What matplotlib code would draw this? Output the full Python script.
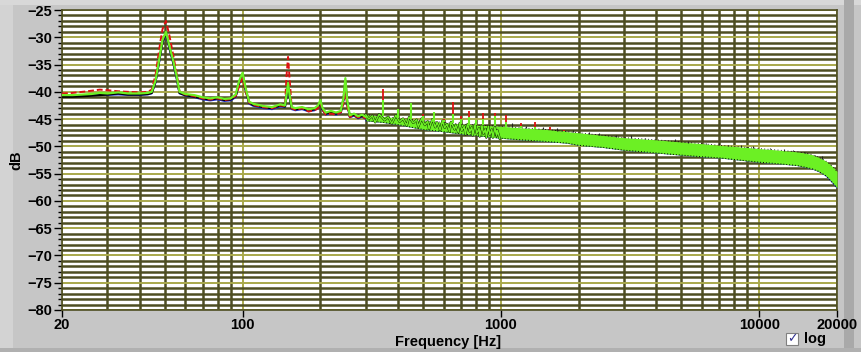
import numpy as np
import matplotlib.pyplot as plt
from matplotlib.patches import Rectangle

# low frequency part of the spectrum (Hz / dB)
freq_low = [20, 22, 24, 26, 28, 30, 33, 36, 40, 43, 44.5, 46, 47, 48, 49, 50.5, 52,
            53, 54, 55.5, 57, 60, 65, 70, 75, 80, 85, 90, 94, 97, 100, 103, 106, 110,
            120, 130, 140, 146, 148, 150, 152, 155, 160, 170, 180, 190, 196, 200,
            204, 210, 220, 230, 240, 246, 250, 254, 260, 270, 280, 290, 300]
green_low = [-40.6, -40.6, -40.5, -40.4, -40.2, -40.3, -40.1, -40.3, -40.3, -40.2,
             -40.0, -38.0, -35.5, -33.0, -30.5, -29.0, -31.5, -33.0, -34.5, -37.0,
             -40.0, -40.4, -40.6, -41.0, -41.2, -41.0, -41.3, -41.2, -40.5, -38.0,
             -36.5, -39.5, -41.8, -42.2, -42.6, -42.8, -42.3, -42.5, -40.5, -38.4,
             -40.5, -42.8, -43.0, -42.8, -43.2, -43.0, -42.5, -41.5, -43.0, -43.8,
             -43.5, -43.8, -43.5, -41.0, -37.5, -41.5, -44.3, -44.0, -44.5, -44.2,
             -44.6]
red_low = [-40.3, -40.2, -40.0, -39.8, -39.6, -39.7, -39.9, -40.0, -40.1, -40.0,
           -39.6, -37.0, -34.0, -31.0, -28.5, -27.0, -29.5, -31.5, -33.5, -36.5,
           -40.0, -40.5, -40.8, -41.2, -41.4, -41.2, -41.5, -41.3, -40.8, -39.0,
           -37.5, -40.0, -42.0, -42.4, -42.8, -43.0, -42.5, -42.6, -37.0, -33.6,
           -37.5, -43.0, -43.3, -43.0, -43.6, -43.4, -43.0, -42.0, -43.3, -44.2,
           -44.0, -44.2, -43.8, -42.0, -39.5, -42.5, -44.6, -44.3, -44.7, -44.5,
           -44.9]
blue_low = [-40.8, -40.8, -40.7, -40.6, -40.5, -40.6, -40.5, -40.6, -40.6, -40.5,
            -40.3, -38.4, -36.0, -33.5, -31.0, -29.5, -32.0, -33.5, -35.0, -37.5,
            -40.3, -40.7, -41.0, -41.4, -41.6, -41.4, -41.7, -41.6, -41.0, -38.6,
            -37.0, -40.0, -42.2, -42.6, -43.0, -43.2, -42.7, -42.8, -41.0, -39.0,
            -41.0, -43.2, -43.4, -43.2, -43.6, -43.4, -43.0, -42.0, -43.4, -44.2,
            -43.9, -44.2, -43.9, -41.5, -38.5, -42.0, -44.7, -44.4, -44.9, -44.6,
            -45.0]
black_low = [-40.9, -40.9, -40.8, -40.7, -40.6, -40.5, -40.3, -40.5, -40.5, -40.4,
             -40.2, -38.2, -35.7, -33.2, -30.8, -29.2, -31.7, -33.2, -34.7, -37.2,
             -40.2, -40.6, -40.9, -41.2, -41.4, -41.2, -41.5, -41.4, -40.8, -38.3,
             -36.8, -39.8, -42.0, -42.4, -42.8, -43.0, -42.5, -42.7, -40.8, -38.8,
             -40.8, -43.0, -43.2, -43.0, -43.4, -43.2, -42.8, -41.8, -43.2, -44.0,
             -43.7, -44.0, -43.7, -41.3, -38.0, -41.8, -44.5, -44.2, -44.7, -44.4,
             -44.8]

# noisy trace 300 Hz .. 1 kHz
zig_freq = [300, 308, 318, 326, 338, 355, 366, 378, 392, 405, 418, 432, 441, 458,
            472, 479, 493, 508, 521, 527, 543, 557, 566, 582, 594, 606, 618, 633,
            641, 662, 668, 684, 693, 706, 722, 728, 743, 758, 772, 778, 794, 806,
            823, 828, 845, 856, 872, 878, 894, 906, 922, 931, 948, 962, 968, 990]
zig_db = [-44.2, -45.0, -44.4, -45.6, -44.1, -45.2, -44.6, -45.8, -44.3, -45.5,
          -44.9, -46.2, -44.6, -45.7, -45.1, -46.4, -44.9, -46.1, -45.4, -46.8,
          -45.0, -46.5, -45.6, -47.0, -45.3, -46.6, -45.9, -47.3, -45.5, -46.9,
          -46.1, -47.4, -45.7, -47.1, -46.3, -47.8, -45.9, -47.3, -46.5, -48.0,
          -46.0, -47.6, -46.7, -48.2, -46.2, -47.7, -46.8, -48.4, -46.3, -47.9,
          -46.9, -48.4, -46.5, -48.1, -47.0, -48.6]

# noise band above 300 Hz: upper / lower edge
band_freq = [300, 350, 400, 500, 600, 700, 800, 1000, 1200, 1500, 1800, 2000, 2500,
             3000, 4000, 5000, 6000, 7000, 8000, 10000, 12000, 14000, 15000, 16000,
             17000, 18000, 18500, 19000, 19500, 20000]
band_top = [-44.2, -44.5, -44.8, -45.3, -45.6, -45.9, -46.1, -46.3, -46.6, -46.9,
            -47.3, -47.5, -48.0, -48.4, -48.8, -49.2, -49.5, -49.8, -50.0, -50.4,
            -50.7, -51.0, -51.2, -51.5, -52.0, -52.6, -53.0, -53.5, -54.0, -54.6]
band_low = [-45.3, -45.6, -46.0, -46.9, -47.3, -47.7, -48.0, -48.5, -48.8, -49.1,
            -49.4, -49.8, -50.2, -50.7, -51.2, -51.6, -51.9, -52.1, -52.4, -52.9,
            -53.2, -53.5, -53.8, -54.1, -54.6, -55.3, -55.8, -56.4, -57.0, -57.6]

# harmonic spikes sticking out of the noise
harm_freq = [350, 400, 450, 500, 550, 600, 650, 700, 750, 800, 850, 950, 1050, 1200,
             1350, 1550, 1750]
harm_red = [-39.5, -43.5, -42.5, -44.0, -44.0, -45.0, -41.9, -44.5, -43.5, -45.5,
            -43.9, -43.8, -44.3, -45.7, -45.5, -46.5, -47.0]
harm_green = [-41.5, -43.2, -42.0, -44.5, -43.7, -45.2, -44.0, -45.0, -44.6, -45.2,
              -45.0, -44.5, -45.5, -46.2, -46.5, -47.0, -47.5]

# small dark noise spikes above the band
tick_freq = [1100, 1250, 1450, 1650, 1900, 2200, 2400, 2800, 3200, 3600, 4200, 4700,
             5300, 6200, 7000, 7600, 8500, 9500, 11000, 12500, 13500, 15000, 16500,
             17500]
tick_db = [-45.8, -46.2, -46.4, -46.7, -47.0, -47.3, -47.6, -48.0, -48.0, -48.4,
           -48.8, -48.6, -49.0, -49.3, -49.3, -49.7, -49.8, -50.0, -50.3, -50.5,
           -50.6, -51.0, -51.5, -51.8]

xticks = [20, 100, 1000, 10000, 20000]
xtick_labels = ['20', '100', '1000', '10000', '20000']

bg = '#c6c6c6'
minor_col = '#4e4e22'
major_col = '#a9a94c'
lime = '#6cf024'

plt.rcParams['font.family'] = ['Liberation Sans', 'DejaVu Sans']
plt.rcParams['font.weight'] = 'bold'

fig = plt.figure(figsize=(8.62, 3.52), dpi=100, facecolor=bg)
# panel border strips
fig.patches.append(Rectangle((0, 0), 13/862, 1, transform=fig.transFigure,
                             facecolor='#d3d3d3', edgecolor='none', zorder=-1))
fig.patches.append(Rectangle((0, 1-5/352), 1, 5/352, transform=fig.transFigure,
                             facecolor='#d8d8d8', edgecolor='none', zorder=-1))
fig.patches.append(Rectangle((844/862, 0), 10/862, 1, transform=fig.transFigure,
                             facecolor='#a9a9a9', edgecolor='none', zorder=-1))
fig.patches.append(Rectangle((0, 0), 1, 4/352, transform=fig.transFigure,
                             facecolor='#b0b0b0', edgecolor='none', zorder=-1))

ax = fig.add_axes([62/862, 1-310/352, 775/862, 300/352])
ax.set_facecolor('white')
ax.set_xscale('log')
ax.set_xlim(20, 20000)
ax.set_ylim(-80, -25)

# traces
ax.plot(freq_low, blue_low, color='#2233cc', lw=1.3, zorder=3)
ax.plot(freq_low, black_low, color='black', lw=1.6, zorder=3)
ax.plot(freq_low, red_low, color='#dd1111', lw=1.4, ls=(0, (3, 1.5)), zorder=4)
ax.plot(freq_low, green_low, color=lime, lw=1.6, zorder=5)

ax.fill_between(band_freq, band_low, band_top, color=lime, lw=0, zorder=4)
ax.plot(band_freq, band_low, color='#2233cc', lw=0.8, zorder=3)
ax.plot(band_freq, band_low, color='black', lw=0.7, ls=(0, (1, 2)), zorder=5)
ax.plot(band_freq, band_top, color='black', lw=0.6, ls=(0, (1, 3)), zorder=5)
ax.plot(zig_freq, zig_db, color='black', lw=1.6, zorder=4)
ax.plot(zig_freq, zig_db, color=lime, lw=1.1, zorder=5)

band_at_harm = np.interp(np.log10(harm_freq), np.log10(band_freq), band_top)
ax.vlines(harm_freq, band_at_harm, harm_red, color='#dd1111', lw=1.3, zorder=4)
ax.vlines(harm_freq, band_at_harm, harm_green, color=lime, lw=1.5, zorder=5)
band_at_tick = np.interp(np.log10(tick_freq), np.log10(band_freq), band_top)
ax.vlines(tick_freq, band_at_tick, tick_db, color='#222222', lw=0.8, zorder=5)

# grid
ax.set_xticks(xticks)
ax.set_xticklabels(xtick_labels)
minor_x = [f * d for d in (10, 100, 1000) for f in range(2, 10) if 20 < f * d < 20000]
ax.set_xticks(minor_x, minor=True)
ax.set_xticklabels([], minor=True)
ax.set_yticks(np.arange(-80, -24, 5))
ax.set_yticks(np.arange(-80, -24, 1), minor=True)

ax.grid(which='minor', color=minor_col, lw=1.8, zorder=1)
ax.grid(which='major', color=major_col, lw=1.4, zorder=1)
ax.set_axisbelow(True)
for s in ax.spines.values():
    s.set_color(minor_col)
    s.set_linewidth(1.2)

ax.tick_params(axis='x', which='minor', length=0)
ax.tick_params(axis='x', which='major', length=5, width=1, color='black',
               labelsize=10.5, pad=1)
ax.tick_params(axis='y', which='major', length=6, width=1, color='black',
               labelsize=10.5, pad=1)
ax.tick_params(axis='y', which='minor', length=3, width=1, color='black')

fig.text(448/862, 1-342/352, 'Frequency [Hz]', fontsize=10.5, fontweight='bold',
         ha='center', va='center')
fig.text(16/862, 1-160/352, 'dB', fontsize=10.5, fontweight='bold',
         rotation=90, ha='center', va='center')

# "log" checkbox
fig.patches.append(Rectangle((786/862, 1-345/352), 12/862, 12/352,
                             transform=fig.transFigure, facecolor='white',
                             edgecolor='#808080', lw=0.8))
fig.text(792/862, 1-339/352, '\u2713', color='#303090', fontsize=9,
         ha='center', va='center', family='DejaVu Sans')
fig.text(804/862, 1-339/352, 'log', fontsize=10.5, fontweight='bold',
         ha='left', va='center')

fig.savefig('out.png', dpi=100, facecolor=bg)
